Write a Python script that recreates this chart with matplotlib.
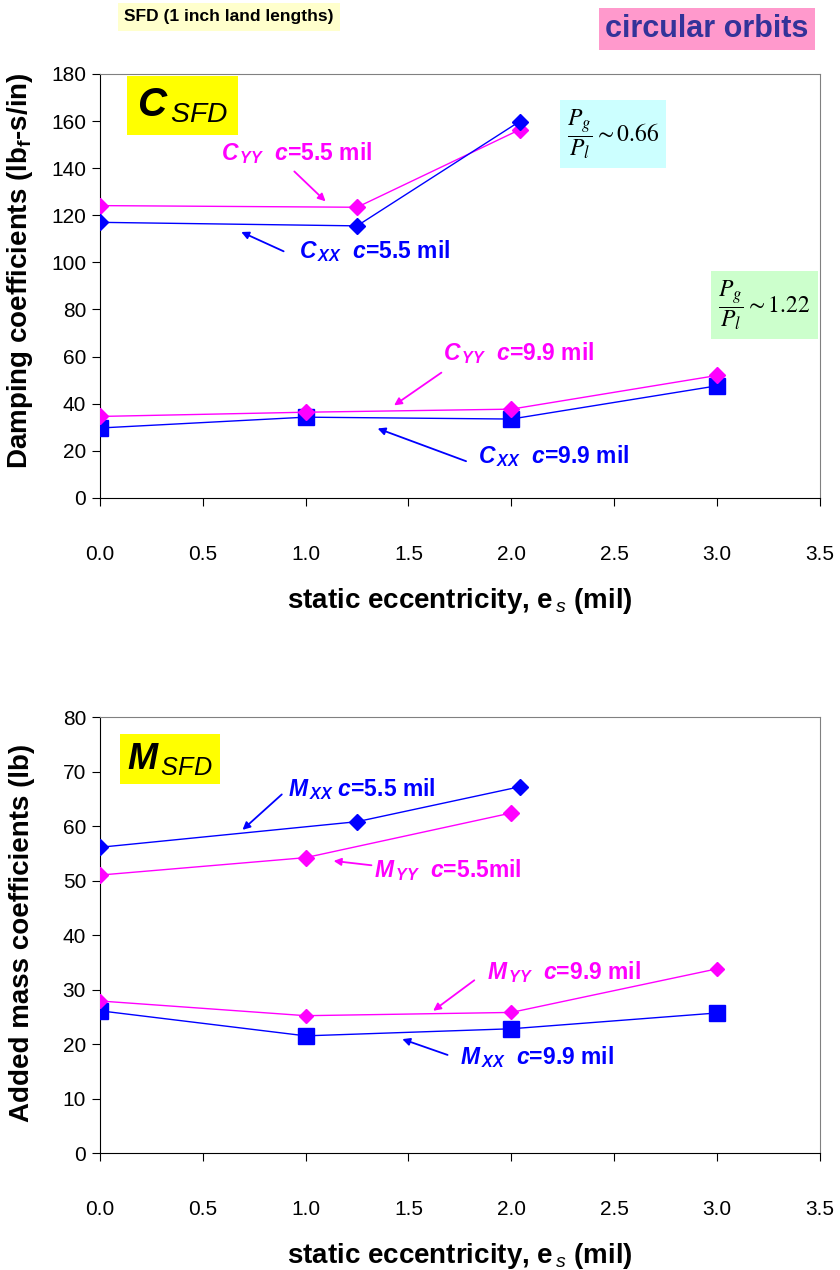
import matplotlib
matplotlib.use("Agg")
import matplotlib.pyplot as plt
from matplotlib import font_manager

# data
es_55_c = [0.0, 1.25, 2.04]
cxx_55 = [117.0, 115.5, 159.8]
cyy_55 = [124.1, 123.4, 156.3]
es_99 = [0.0, 1.0, 2.0, 3.0]
cxx_99 = [29.7, 34.3, 33.5, 47.6]
cyy_99 = [34.6, 36.4, 37.7, 52.0]

es_mxx_55 = [0.0, 1.25, 2.04]
mxx_55 = [56.1, 60.8, 67.2]
es_myy_55 = [0.0, 1.0, 2.0]
myy_55 = [51.0, 54.2, 62.4]
mxx_99 = [26.1, 21.5, 22.8, 25.7]
myy_99 = [27.9, 25.2, 25.8, 33.8]

x_ticks = [0.0, 0.5, 1.0, 1.5, 2.0, 2.5, 3.0, 3.5]
c_ticks = list(range(0, 181, 20))
m_ticks = list(range(0, 81, 10))

BLUE = "#0000FF"
PINK = "#FF00FF"

names = {f.name for f in font_manager.fontManager.ttflist}
FONT = "Liberation Sans Narrow" if "Liberation Sans Narrow" in names else "Liberation Sans"

plt.rcParams["font.family"] = [FONT, "DejaVu Sans"]
plt.rcParams["mathtext.fontset"] = "custom"
plt.rcParams["mathtext.rm"] = FONT + ":bold"
plt.rcParams["mathtext.it"] = FONT + ":italic"
plt.rcParams["mathtext.bf"] = FONT + ":bold:italic"

fig = plt.figure(figsize=(8.4, 12.7), dpi=100)
ax1 = fig.add_axes([0.119, 0.6079, 0.857, 0.3339])
ax2 = fig.add_axes([0.119, 0.0921, 0.857, 0.3433])


def style_axes(ax, yticks):
    ax.set_xlim(0, 3.5)
    ax.set_ylim(yticks[0], yticks[-1])
    ax.set_xticks(x_ticks)
    ax.set_xticklabels([f"{v:.1f}" for v in x_ticks])
    ax.set_yticks(yticks)
    ax.tick_params(axis="x", direction="out", length=6, pad=28, labelsize=15)
    ax.tick_params(axis="y", direction="out", length=6, pad=4, labelsize=15)
    for s in ["top", "right"]:
        ax.spines[s].set_color("#808080")
    for s in ["left", "bottom"]:
        ax.spines[s].set_color("black")
    ax.set_xlabel(r"static eccentricity, $\mathrm{e}_{\,\mathit{s}}$ (mil)",
                  fontsize=20, fontweight="bold", labelpad=16)


def arrow(ax, start, end, color):
    ax.annotate("", xy=end, xytext=start,
                arrowprops=dict(arrowstyle="-|>", color=color, lw=1.3,
                                mutation_scale=11, shrinkA=0, shrinkB=0))


# ---- damping coefficients ----
ax1.plot(es_55_c, cyy_55, color=PINK, lw=1.0, marker="D", ms=8.5, zorder=3)
ax1.plot(es_55_c, cxx_55, color=BLUE, lw=1.0, marker="D", ms=8.5, zorder=3)
ax1.plot(es_99, cxx_99, color=BLUE, lw=1.0, marker="s", ms=12, zorder=3)
ax1.plot(es_99, cyy_99, color=PINK, lw=1.0, marker="D", ms=8.5, zorder=4)
style_axes(ax1, c_ticks)
ax1.set_ylabel(r"Damping coefficients (lb$_{\mathrm{f}}$-s/in)",
               fontsize=20, fontweight="bold")
ax1.yaxis.set_label_coords(-0.09, 0.535)

ax1.text(0.4, 166.5, r"$\mathbf{C}_{\,\mathit{SFD}}$", fontsize=29,
         ha="center", va="center",
         bbox=dict(boxstyle="square,pad=0.25", fc="#FFFF00", ec="none"))
ax1.text(0.59, 146.4, r"$\mathbf{C}_{\,\mathbf{YY}}$  $\mathbf{c}$=5.5 mil",
         color=PINK, fontsize=16.5, fontweight="bold", va="center")
arrow(ax1, (0.945, 138.6), (1.097, 125.9), PINK)
ax1.text(0.97, 104.7, r"$\mathbf{C}_{\,\mathbf{XX}}$  $\mathbf{c}$=5.5 mil",
         color=BLUE, fontsize=16.5, fontweight="bold", va="center")
arrow(ax1, (0.893, 104.7), (0.687, 112.9), BLUE)
ax1.text(1.67, 61.7, r"$\mathbf{C}_{\,\mathbf{YY}}$  $\mathbf{c}$=9.9 mil",
         color=PINK, fontsize=16.5, fontweight="bold", va="center")
arrow(ax1, (1.66, 53.2), (1.43, 39.3), PINK)
ax1.text(1.84, 17.7, r"$\mathbf{C}_{\,\mathbf{XX}}$  $\mathbf{c}$=9.9 mil",
         color=BLUE, fontsize=16.5, fontweight="bold", va="center")
arrow(ax1, (1.78, 15.6), (1.35, 29.5), BLUE)

ax1.text(2.495, 154.5, r"$\dfrac{P_g}{P_l}\sim 0.66$", math_fontfamily="stix",
         fontsize=17, ha="center", va="center",
         bbox=dict(boxstyle="square,pad=0.3", fc="#CCFFFF", ec="none"))
ax1.text(3.23, 82, r"$\dfrac{P_g}{P_l}\sim 1.22$", math_fontfamily="stix",
         fontsize=17, ha="center", va="center",
         bbox=dict(boxstyle="square,pad=0.3", fc="#CCFFCC", ec="none"))

# ---- added mass coefficients ----
ax2.plot(es_mxx_55, mxx_55, color=BLUE, lw=1.0, marker="D", ms=8, zorder=3)
ax2.plot(es_myy_55, myy_55, color=PINK, lw=1.0, marker="D", ms=8, zorder=3)
ax2.plot(es_99, mxx_99, color=BLUE, lw=1.0, marker="s", ms=12, zorder=3)
ax2.plot(es_99, myy_99, color=PINK, lw=1.0, marker="D", ms=7, zorder=4)
style_axes(ax2, m_ticks)
ax2.set_ylabel("Added mass coefficients (lb)", fontsize=20, fontweight="bold")
ax2.yaxis.set_label_coords(-0.09, 0.505)

ax2.text(0.34, 72.3, r"$\mathbf{M}_{\,\mathit{SFD}}$", fontsize=26,
         ha="center", va="center",
         bbox=dict(boxstyle="square,pad=0.2", fc="#FFFF00", ec="none"))
ax2.text(0.916, 66.8, r"$\mathbf{M}_{\,\mathbf{XX}}$ $\mathbf{c}$=5.5 mil",
         color=BLUE, fontsize=16.5, fontweight="bold", va="center")
arrow(ax2, (0.884, 65.8), (0.693, 59.3), BLUE)
ax2.text(1.33, 52.0, r"$\mathbf{M}_{\,\mathbf{YY}}$  $\mathbf{c}$=5.5mil",
         color=PINK, fontsize=16.5, fontweight="bold", va="center")
arrow(ax2, (1.32, 52.8), (1.136, 53.6), PINK)
ax2.text(1.88, 33.3, r"$\mathbf{M}_{\,\mathbf{YY}}$  $\mathbf{c}$=9.9 mil",
         color=PINK, fontsize=16.5, fontweight="bold", va="center")
arrow(ax2, (1.82, 31.7), (1.62, 26.1), PINK)
ax2.text(1.75, 17.6, r"$\mathbf{M}_{\,\mathbf{XX}}$  $\mathbf{c}$=9.9 mil",
         color=BLUE, fontsize=16.5, fontweight="bold", va="center")
arrow(ax2, (1.69, 18.0), (1.47, 20.9), BLUE)

# ---- headers ----
fig.text(229 / 840, 1 - 17 / 1270, "SFD (1 inch land lengths)", fontsize=12.5,
         fontweight="bold", ha="center", va="center",
         bbox=dict(boxstyle="square,pad=0.35", fc="#FFFFCC", ec="none"))
fig.text(707 / 840, 1 - 29 / 1270, "circular orbits", fontsize=22,
         fontweight="bold", color="#333399", ha="center", va="center",
         bbox=dict(boxstyle="square,pad=0.2", fc="#FF99CC", ec="none"))

fig.savefig("out.png", dpi=100)
